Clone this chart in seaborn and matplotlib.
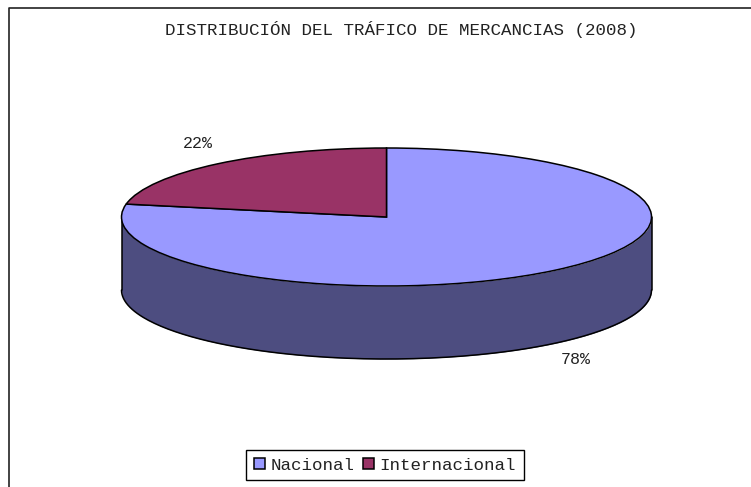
import numpy as np
import matplotlib
matplotlib.use('Agg')
import matplotlib.pyplot as plt
import seaborn as sns

sns.set_theme(style='white')
plt.rcParams['font.family'] = ['Liberation Mono', 'DejaVu Sans']

# datos
categorias = ['Nacional', 'Internacional']
valores = [78, 22]
colores = sns.color_palette(['#9999FF', '#993366'])
color_pared = '#4D4D80'
titulo = 'DISTRIBUCIÓN DEL TRÁFICO DE MERCANCIAS (2008)'

# geometria en pixeles de la imagen
W, H = 751, 487
cx, cy = 386.5, 217
rx, ry = 265, 69
profundidad = 73 / ry

fig = plt.figure(figsize=(W / 100, H / 100), dpi=100)
ax = fig.add_axes([0, 0, 1, 1])


def px(x, y):
    return (x - cx) / rx, (cy - y) / ry


# pared lateral del disco
t = np.linspace(np.pi, 2 * np.pi, 200)
xs = np.cos(t)
arriba = np.sin(t)
abajo = arriba - profundidad
ax.fill_between(xs, abajo, arriba, color=color_pared, lw=0, zorder=1)
ax.plot(xs, abajo, color='black', lw=1.1, zorder=2)
ax.plot([-1, -1], [0, -profundidad], color='black', lw=1.1, zorder=2)
ax.plot([1, 1], [0, -profundidad], color='black', lw=1.1, zorder=2)

# tapa
wedges, _ = ax.pie(valores, colors=colores, startangle=90, counterclock=False,
                   radius=1, wedgeprops={'edgecolor': 'black', 'linewidth': 1.1, 'zorder': 3})
ax.set_aspect('auto')
ax.set_xlim((0 - cx) / rx, (W - cx) / rx)
ax.set_ylim((cy - H) / ry, cy / ry)
ax.axis('off')

# etiquetas
ax.text(*px(576, 360), f'{valores[0]}%', ha='center', va='center', fontsize=12, color='#222222')
ax.text(*px(198, 143), f'{valores[1]}%', ha='center', va='center', fontsize=12, color='#222222')
ax.text(*px(401.5, 29), titulo, ha='center', va='center', fontsize=12.6, color='#222222')

# marco exterior (solo se ven arriba e izquierda)
ax.plot(*zip(px(9, H + 2), px(9, 8), px(W + 2, 8)), color='#222222', lw=1.2, clip_on=True)

leg = ax.legend(wedges, categorias, ncol=2, loc='center',
                bbox_to_anchor=(385 / W, 1 - 465 / H), frameon=True, fancybox=False,
                edgecolor='black', framealpha=1, fontsize=12.6, handlelength=0.63,
                handleheight=0.63, handletextpad=0.3, columnspacing=0.5,
                borderpad=0.45, borderaxespad=0)
leg.get_frame().set_linewidth(1)
for texto in leg.get_texts():
    texto.set_color('#222222')

fig.savefig('out.png', dpi=100, facecolor='white')
